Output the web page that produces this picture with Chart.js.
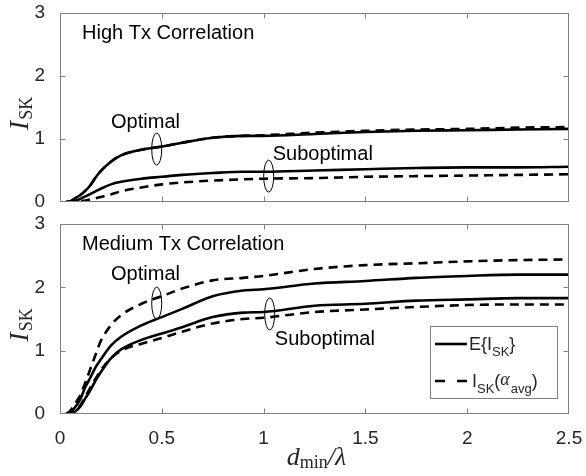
<!DOCTYPE html>
<html>
<head>
<meta charset="utf-8">
<script src="https://cdn.jsdelivr.net/npm/chart.js@4/dist/chart.umd.min.js"></script>
<style>
  html, body { margin: 0; padding: 0; background: #fff; }
  #wrap { position: relative; width: 586px; height: 476px; }
  canvas { position: absolute; left: 0; }
  #top { top: 0; }
  #bottom { top: 215px; }
</style>
</head>
<body>
<div id="wrap">
  <canvas id="top" width="586" height="215"></canvas>
  <canvas id="bottom" width="586" height="261"></canvas>
</div>
<script>
// d_min / lambda grid
const xs = [0.03, 0.05, 0.075, 0.1, 0.125, 0.15, 0.175, 0.2, 0.25, 0.3, 0.4, 0.5, 0.6, 0.75, 0.9, 1.0, 1.25, 1.5, 1.75, 2.0, 2.25, 2.5];
const xTicks = [0, 0.5, 1, 1.5, 2, 2.5];
const yTicks = [0, 1, 2, 3];

// High Tx correlation
const highOptE   = [0, 0.01, 0.06, 0.11, 0.18, 0.27, 0.39, 0.49, 0.64, 0.74, 0.83, 0.88, 0.94, 1.02, 1.05, 1.05, 1.08, 1.11, 1.13, 1.14, 1.15, 1.16];
const highOptAvg = [0, 0.01, 0.06, 0.11, 0.18, 0.27, 0.39, 0.49, 0.64, 0.74, 0.83, 0.88, 0.94, 1.02, 1.05, 1.06, 1.10, 1.13, 1.15, 1.16, 1.18, 1.19];
const highSubE   = [0, 0.005, 0.02, 0.05, 0.09, 0.13, 0.17, 0.21, 0.28, 0.32, 0.37, 0.40, 0.43, 0.46, 0.48, 0.48, 0.50, 0.52, 0.54, 0.55, 0.55, 0.56];
const highSubAvg = [0, 0.002, 0.008, 0.015, 0.025, 0.04, 0.06, 0.08, 0.12, 0.17, 0.23, 0.28, 0.31, 0.34, 0.36, 0.37, 0.38, 0.40, 0.41, 0.42, 0.43, 0.44];

// Medium Tx correlation
const medOptE   = [0, 0.03, 0.11, 0.24, 0.43, 0.58, 0.74, 0.86, 1.08, 1.22, 1.40, 1.53, 1.66, 1.86, 1.95, 1.97, 2.06, 2.10, 2.15, 2.18, 2.20, 2.20];
const medOptAvg = [0, 0.05, 0.17, 0.30, 0.50, 0.72, 0.94, 1.15, 1.40, 1.56, 1.74, 1.86, 1.98, 2.11, 2.15, 2.18, 2.29, 2.35, 2.38, 2.41, 2.43, 2.44];
const medSubE   = [0, 0.01, 0.04, 0.12, 0.25, 0.38, 0.53, 0.66, 0.88, 1.02, 1.17, 1.27, 1.37, 1.53, 1.60, 1.61, 1.71, 1.74, 1.79, 1.81, 1.83, 1.83];
const medSubAvg = [0, 0.01, 0.05, 0.14, 0.28, 0.42, 0.56, 0.69, 0.88, 1.00, 1.11, 1.20, 1.30, 1.43, 1.50, 1.52, 1.61, 1.65, 1.69, 1.72, 1.73, 1.73];

const FONT = '"Liberation Sans", Arial, sans-serif';
const SERIF = '"Liberation Serif", "Times New Roman", serif';
const TXT = '#262626';
const AXIS = '#808080';

const pts = ys => xs.map((x, i) => ({ x, y: ys[i] }));
const line = (ys, dashed) => ({
  data: pts(ys),
  borderColor: '#000',
  borderWidth: 2.6,
  borderDash: dashed ? [9, 6] : [],
  pointRadius: 0,
  cubicInterpolationMode: 'monotone',
  fill: false,
});

// box, inward ticks, notes, ellipses, y label, legend
const decor = {
  id: 'decor',
  afterDatasetsDraw(chart, args, opts) {
    const { ctx, chartArea: a, scales: { x, y } } = chart;
    ctx.save();
    ctx.strokeStyle = AXIS;
    ctx.lineWidth = 1;
    const L = Math.round(a.left) + 0.5, R = Math.round(a.right) - 0.5;
    const T = Math.round(a.top) + 0.5, B = Math.round(a.bottom) - 0.5;
    ctx.strokeRect(L, T, R - L, B - T);
    ctx.beginPath();
    xTicks.slice(1, -1).forEach(v => {
      const p = Math.round(x.getPixelForValue(v)) + 0.5;
      ctx.moveTo(p, B); ctx.lineTo(p, B - 5);
      ctx.moveTo(p, T); ctx.lineTo(p, T + 5);
    });
    yTicks.slice(1, -1).forEach(v => {
      const p = Math.round(y.getPixelForValue(v)) + 0.5;
      ctx.moveTo(L, p); ctx.lineTo(L + 5, p);
      ctx.moveTo(R, p); ctx.lineTo(R - 5, p);
    });
    ctx.stroke();

    // text notes
    ctx.fillStyle = '#000';
    ctx.font = '20px ' + FONT;
    ctx.textBaseline = 'middle';
    (opts.notes || []).forEach(n => {
      ctx.textAlign = n.align || 'left';
      ctx.fillText(n.text, x.getPixelForValue(n.x), y.getPixelForValue(n.y));
    });

    // ellipses
    ctx.strokeStyle = '#000';
    ctx.lineWidth = 1;
    (opts.ellipses || []).forEach(e => {
      ctx.beginPath();
      ctx.ellipse(x.getPixelForValue(e.x), y.getPixelForValue(e.y), 5, 16, 0, 0, Math.PI * 2);
      ctx.stroke();
    });

    // y axis label I_SK
    ctx.save();
    ctx.translate(29, (a.top + a.bottom) / 2 + 6);
    ctx.rotate(-Math.PI / 2);
    ctx.fillStyle = TXT;
    ctx.textAlign = 'left';
    ctx.textBaseline = 'alphabetic';
    ctx.font = 'italic 28px ' + SERIF;
    const wI = ctx.measureText('I').width;
    ctx.font = '18px ' + SERIF;
    const wS = ctx.measureText('SK').width;
    const x0 = -(wI + wS + 1) / 2;
    ctx.font = 'italic 28px ' + SERIF;
    ctx.fillText('I', x0, -1);
    ctx.font = '18px ' + SERIF;
    ctx.fillText('SK', x0 + wI + 1, 3);
    ctx.restore();

    if (opts.legend) drawLegend(ctx, a);
    if (opts.xTitle) drawXTitle(ctx, a);
    ctx.restore();
  }
};

function drawLegend(ctx, a) {
  const bx = a.right - 139, by = a.top + 102, bw = 127, bh = 72;
  ctx.fillStyle = '#fff';
  ctx.fillRect(bx, by, bw, bh);
  ctx.strokeStyle = AXIS;
  ctx.lineWidth = 1;
  ctx.strokeRect(Math.round(bx) + 0.5, Math.round(by) + 0.5, bw, bh);

  ctx.strokeStyle = '#000';
  ctx.lineWidth = 2.6;
  ctx.beginPath();
  ctx.moveTo(bx + 5, by + 18); ctx.lineTo(bx + 37, by + 18);
  ctx.stroke();
  ctx.setLineDash([10, 12]);
  ctx.beginPath();
  ctx.moveTo(bx + 5, by + 55); ctx.lineTo(bx + 37, by + 55);
  ctx.stroke();
  ctx.setLineDash([]);

  ctx.fillStyle = TXT;
  ctx.textAlign = 'left';
  ctx.textBaseline = 'alphabetic';
  let tx = bx + 39;
  const put = (s, font, dy) => { ctx.font = font; ctx.fillText(s, tx, dy); tx += ctx.measureText(s).width; };
  const main = '18px ' + FONT, sub = '13px ' + FONT;
  put('E{I', main, by + 24);
  put('SK', sub, by + 30);
  put('}', main, by + 24);

  tx = bx + 42;
  put('I', main, by + 61);
  put('SK', sub, by + 67);
  put('(', main, by + 61);
  put('\u03b1', 'italic 18px ' + SERIF, by + 59);
  tx += 1;
  put('avg', sub, by + 67);
  put(')', main, by + 61);
}

function drawXTitle(ctx, a) {
  const parts = [
    ['d', 'italic 26px ' + SERIF, 0],
    ['min', '18px ' + SERIF, 3],
    ['/', 'italic 26px ' + SERIF, 0],
    ['\u03bb', 'italic 26px ' + SERIF, 0],
  ];
  let w = 0;
  parts.forEach(p => { ctx.font = p[1]; w += ctx.measureText(p[0]).width; });
  let tx = (a.left + a.right) / 2 - w / 2 + 2;
  const base = a.bottom + 51;
  ctx.fillStyle = TXT;
  ctx.textAlign = 'left';
  ctx.textBaseline = 'alphabetic';
  parts.forEach(p => { ctx.font = p[1]; ctx.fillText(p[0], tx, base + p[2]); tx += ctx.measureText(p[0]).width; });
}

function makeChart(canvas, series, padTop, xHeight, showX, notes, ellipses, extra) {
  return new Chart(canvas, {
    type: 'line',
    data: { datasets: series },
    options: {
      responsive: false,
      animation: false,
      layout: { padding: { top: padTop, right: 17, left: 0, bottom: 0 } },
      plugins: {
        legend: { display: false },
        tooltip: { enabled: false },
        decor: { notes, ellipses, ...extra },
      },
      scales: {
        x: {
          type: 'linear', min: 0, max: 2.5,
          grid: { display: false }, border: { display: false },
          ticks: {
            display: showX, stepSize: 0.5, padding: 5, color: TXT,
            font: { family: FONT, size: 19 },
            callback: v => String(v),
          },
          afterFit: s => { s.height = xHeight; s.paddingLeft = 0; s.paddingRight = 0; },
        },
        y: {
          min: 0, max: 3,
          grid: { display: false }, border: { display: false },
          ticks: { stepSize: 1, padding: 7, color: TXT, font: { family: FONT, size: 19 } },
          afterFit: s => { s.width = 60; s.paddingTop = 0; s.paddingBottom = 0; },
        },
      },
    },
    plugins: [decor],
  });
}

makeChart(
  document.getElementById('top'),
  [line(highOptE), line(highOptAvg, true), line(highSubE), line(highSubAvg, true)],
  13, 13, false,
  [
    { text: 'High Tx Correlation', x: 0.108, y: 2.68 },
    { text: 'Optimal', x: 0.42, y: 1.27, align: 'center' },
    { text: 'Suboptimal', x: 1.045, y: 0.75 },
  ],
  [{ x: 0.475, y: 0.84 }, { x: 1.025, y: 0.41 }],
  {}
);

makeChart(
  document.getElementById('bottom'),
  [line(medOptE), line(medOptAvg, true), line(medSubE), line(medSubAvg, true)],
  9, 62, true,
  [
    { text: 'Medium Tx Correlation', x: 0.108, y: 2.67 },
    { text: 'Optimal', x: 0.42, y: 2.2, align: 'center' },
    { text: 'Suboptimal', x: 1.055, y: 1.18 },
  ],
  [{ x: 0.475, y: 1.75 }, { x: 1.03, y: 1.58 }],
  { legend: true, xTitle: true }
);
</script>
</body>
</html>
